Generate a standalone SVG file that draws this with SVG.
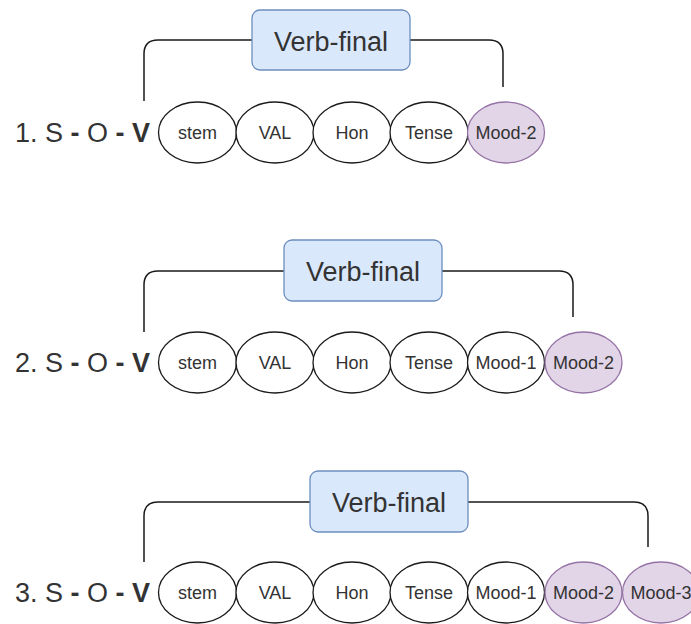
<svg xmlns="http://www.w3.org/2000/svg" width="691" height="624" viewBox="0 0 691 624">
  <style>
    .lbl { font-family: "Liberation Sans", Arial, sans-serif; fill: #333; }
    .row { font-size: 27px; }
    .morph { font-size: 18px; text-anchor: middle; }
    .head { font-size: 27px; text-anchor: middle; }
    .box { fill: #dae8fc; stroke: #6c8ebf; stroke-width: 1.3; }
    .plain { fill: #ffffff; stroke: #1a1a1a; stroke-width: 1.3; }
    .mood { fill: #e1d5e7; stroke: #9673a6; stroke-width: 1.3; }
    .link { fill: none; stroke: #1a1a1a; stroke-width: 1.5; }
  </style>

  <!-- brackets joining each "Verb-final" box to the verb span -->
  <g id="connectors">
    <path class="link" d="M252,40 H158 Q144,40 144,54 V101"/>
    <path class="link" d="M410,40 H489 Q503,40 503,54 V87"/>
    <path class="link" d="M284,271 H158 Q144,271 144,285 V332"/>
    <path class="link" d="M442,271 H559 Q573,271 573,285 V317"/>
    <path class="link" d="M310,502 H158 Q144,502 144,516 V562"/>
    <path class="link" d="M468,502 H634 Q648,502 648,516 V547"/>
  </g>

  <!-- Row 1 -->
  <g id="row1-label"><text class="lbl row" x="15" y="142">1. S <tspan font-weight="bold">-</tspan> O <tspan font-weight="bold">- V</tspan></text></g>
  <g id="row1-head"><rect class="box" x="252" y="10" width="158" height="60" rx="8"/><text class="lbl head" x="331" y="51">Verb-final</text></g>
  <g id="row1-stem"><ellipse class="plain" cx="197.5" cy="132.5" rx="39" ry="30.5"/><text class="lbl morph" x="197.5" y="139">stem</text></g>
  <g id="row1-val"><ellipse class="plain" cx="275" cy="132.5" rx="39" ry="30.5"/><text class="lbl morph" x="275" y="139">VAL</text></g>
  <g id="row1-hon"><ellipse class="plain" cx="352" cy="132.5" rx="39" ry="30.5"/><text class="lbl morph" x="352" y="139">Hon</text></g>
  <g id="row1-tense"><ellipse class="plain" cx="429" cy="132.5" rx="39" ry="30.5"/><text class="lbl morph" x="429" y="139">Tense</text></g>
  <g id="row1-mood2"><ellipse class="mood" cx="506" cy="132.5" rx="38.5" ry="30.5"/><text class="lbl morph" x="506" y="139">Mood-2</text></g>

  <!-- Row 2 -->
  <g id="row2-label"><text class="lbl row" x="15" y="372">2. S <tspan font-weight="bold">-</tspan> O <tspan font-weight="bold">- V</tspan></text></g>
  <g id="row2-head"><rect class="box" x="284" y="240" width="158" height="61" rx="8"/><text class="lbl head" x="363" y="281">Verb-final</text></g>
  <g id="row2-stem"><ellipse class="plain" cx="197.5" cy="362.5" rx="39" ry="30.5"/><text class="lbl morph" x="197.5" y="369">stem</text></g>
  <g id="row2-val"><ellipse class="plain" cx="275" cy="362.5" rx="39" ry="30.5"/><text class="lbl morph" x="275" y="369">VAL</text></g>
  <g id="row2-hon"><ellipse class="plain" cx="352" cy="362.5" rx="39" ry="30.5"/><text class="lbl morph" x="352" y="369">Hon</text></g>
  <g id="row2-tense"><ellipse class="plain" cx="429" cy="362.5" rx="39" ry="30.5"/><text class="lbl morph" x="429" y="369">Tense</text></g>
  <g id="row2-mood1"><ellipse class="plain" cx="506" cy="362.5" rx="38.5" ry="30.5"/><text class="lbl morph" x="506" y="369">Mood-1</text></g>
  <g id="row2-mood2"><ellipse class="mood" cx="583.5" cy="362.5" rx="38.5" ry="30.5"/><text class="lbl morph" x="583.5" y="369">Mood-2</text></g>

  <!-- Row 3 -->
  <g id="row3-label"><text class="lbl row" x="15" y="602">3. S <tspan font-weight="bold">-</tspan> O <tspan font-weight="bold">- V</tspan></text></g>
  <g id="row3-head"><rect class="box" x="310" y="471" width="158" height="61" rx="8"/><text class="lbl head" x="389" y="512">Verb-final</text></g>
  <g id="row3-stem"><ellipse class="plain" cx="197.5" cy="592.5" rx="39" ry="30.5"/><text class="lbl morph" x="197.5" y="599">stem</text></g>
  <g id="row3-val"><ellipse class="plain" cx="275" cy="592.5" rx="39" ry="30.5"/><text class="lbl morph" x="275" y="599">VAL</text></g>
  <g id="row3-hon"><ellipse class="plain" cx="352" cy="592.5" rx="39" ry="30.5"/><text class="lbl morph" x="352" y="599">Hon</text></g>
  <g id="row3-tense"><ellipse class="plain" cx="429" cy="592.5" rx="39" ry="30.5"/><text class="lbl morph" x="429" y="599">Tense</text></g>
  <g id="row3-mood1"><ellipse class="plain" cx="506" cy="592.5" rx="38.5" ry="30.5"/><text class="lbl morph" x="506" y="599">Mood-1</text></g>
  <g id="row3-mood2"><ellipse class="mood" cx="583.5" cy="592.5" rx="38.5" ry="30.5"/><text class="lbl morph" x="583.5" y="599">Mood-2</text></g>
  <g id="row3-mood3"><ellipse class="mood" cx="661" cy="592.5" rx="38.5" ry="30.5"/><text class="lbl morph" x="661" y="599">Mood-3</text></g>
</svg>
